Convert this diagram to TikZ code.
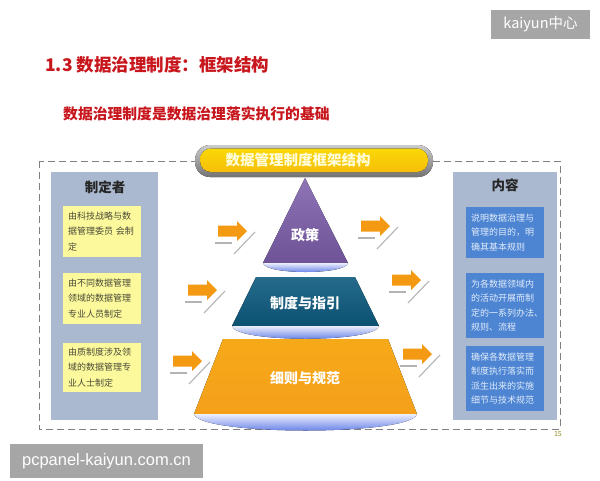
\documentclass[tikz,border=0pt]{standalone}
\usepackage{fontspec}
\setmainfont{Noto Sans CJK SC}
\newfontfamily\latinsans{Liberation Sans}
\definecolor{titlered}{HTML}{C8161D}
\definecolor{panelc}{HTML}{AAB9D0}
\definecolor{yboxc}{HTML}{FCF99C}
\definecolor{ytext}{HTML}{4A4A38}
\definecolor{bboxc}{HTML}{4D85D3}
\definecolor{btext}{HTML}{E2ECFA}
\definecolor{purplec}{HTML}{7A5CA8}
\definecolor{tealc}{HTML}{0D5A7E}
\definecolor{orangec}{HTML}{F5A01B}
\definecolor{arrowc}{HTML}{F39A12}
\definecolor{glinec}{HTML}{B4B4B4}
\definecolor{wmc}{HTML}{A6A6A6}
\definecolor{bannery}{HTML}{F6BE0A}
\definecolor{reflc}{HTML}{4262E2}
\begin{document}
\begin{tikzpicture}[x=1pt,y=-1pt,
  panel/.style={fill=panelc, draw=none, minimum width=#1, minimum height=248pt, inner sep=0pt},
  header/.style={font=\fontsize{13.5}{16}\selectfont\bfseries, text=black!85},
  ybox/.style={fill=yboxc, draw=none, text=ytext, text width=68pt, inner xsep=5pt, inner ysep=0pt,
     minimum width=78pt, align=left, font=\fontsize{9}{15.5}\selectfont},
  bbox/.style={fill=bboxc, draw=none, text=btext, text width=68pt, inner xsep=5pt, inner ysep=0pt,
     minimum width=78pt, align=left, font=\fontsize{9}{14.5}\selectfont},
  plabel/.style={text=white, font=\fontsize{14}{16}\selectfont\bfseries},
  refl/.style={top color=white!90!reflc, bottom color=reflc, draw=none},
  gline/.style={draw=glinec, line width=1.1pt},
  oarrow/.pic={
    \fill[arrowc] (0,-5.5) -- (19,-5.5) -- (19,-10) -- (29,0) -- (19,10) -- (19,5.5) -- (0,5.5) -- cycle;
    \draw[gline] (-3,12) -- (14,12);
    \draw[gline] (16,23) -- (37,1);
  },
  wm/.style={fill=wmc, text=white, inner sep=0pt}
]
\useasboundingbox (0,0) rectangle (600,480);
\fill[white] (0,0) rectangle (600,480);

% watermarks
\node[wm, minimum width=99pt, minimum height=29pt, font=\fontsize{14.5}{16}\selectfont] (wmtop) at (540.5,24.5) {kaiyun中心};

% titles
\node[anchor=west, inner sep=0pt, text=titlered, font=\fontsize{17.5}{20}\selectfont\bfseries] (title) at (45,64.5) {1.3 数据治理制度：框架结构};
\node[anchor=west, inner sep=0pt, text=titlered, font=\fontsize{14.8}{17}\selectfont\bfseries] (subtitle) at (63,113.5) {数据治理制度是数据治理落实执行的基础};

% dashed frame
\draw[draw=black!50, line width=0.9pt, dash pattern=on 7pt off 4pt] (39,161) rectangle (560,429);
\node[anchor=north east, inner sep=0pt, text=olive!70!yellow!80!black, font=\fontsize{7}{8}\selectfont] (pagenum) at (562,431) {15};

% panels
\node[panel=107pt] (leftpanel) at (104.5,296) {};
\node[panel=104pt] (rightpanel) at (505,296) {};
\node[header] (lhead) at (105,187) {制定者};
\node[header] (rhead) at (505,185.5) {内容};

\node[ybox, minimum height=51pt] (y1) at (102,231.5) {由科技战略与数\\据管理委员 会制\\定};
\node[ybox, minimum height=51pt] (y2) at (102,298.5) {由不同数据管理\\领域的数据管理\\专业人员制定};
\node[ybox, minimum height=49pt] (y3) at (102,367.5) {由质制度涉及领\\域的数据管理专\\业人士制定};

\node[bbox, minimum height=51pt] (b1) at (505,232.5) {说明数据治理与\\管理的目的，明\\确其基本规则};
\node[bbox, minimum height=65pt] (b2) at (505,305.5) {为各数据领域内\\的活动开展而制\\定的一系列办法、\\规则、流程};
\node[bbox, minimum height=65pt] (b3) at (505,378.5) {确保各数据管理\\制度执行落实而\\派生出来的实施\\细节与技术规范};

% banner
\fill[top color=black!20, bottom color=black!55] (195,145) [rounded corners=15pt] rectangle (433,177);
\fill[top color=bannery!60!yellow, bottom color=bannery] (200,148.5) [rounded corners=11pt] rectangle (428,172);
\node[text=white!85!yellow, font=\fontsize{14.5}{16}\selectfont\bfseries] (banner) at (298,159.5) {数据管理制度框架结构};

% pyramid
\fill[top color=purplec!85!white, bottom color=purplec!90!black] (305,178) -- (348,263) -- (263,263) -- cycle;
\fill[refl] (263,263) -- (348,263) .. controls (346,275) and (265,275) .. (263,263) -- cycle;
\fill[top color=tealc!90!white, bottom color=tealc!90!black] (256,277) -- (355,277) -- (379,326) -- (232,326) -- cycle;
\fill[refl] (232,326) -- (379,326) .. controls (376,343) and (235,343) .. (232,326) -- cycle;
\fill[top color=orangec!90!yellow, bottom color=orangec] (223,339) -- (388,339) -- (417,414) -- (194,414) -- cycle;
\fill[refl] (194,414) -- (417,414) .. controls (412,436) and (199,436) .. (194,414) -- cycle;

\node[plabel] (p1) at (305,235) {政策};
\node[plabel] (p2) at (305,303) {制度与指引};
\node[plabel] (p3) at (305,378) {细则与规范};

% arrows
\pic at (218,231) {oarrow};
\pic at (188,290) {oarrow};
\pic at (173,361) {oarrow};
\pic at (361,226) {oarrow};
\pic at (392,280) {oarrow};
\pic at (403,354) {oarrow};

\node[wm, minimum width=193pt, minimum height=34pt, font=\latinsans\fontsize{16.5}{18}\selectfont] (wmbottom) at (106.5,461) {pcpanel-kaiyun.com.cn};
\end{tikzpicture}
\end{document}
